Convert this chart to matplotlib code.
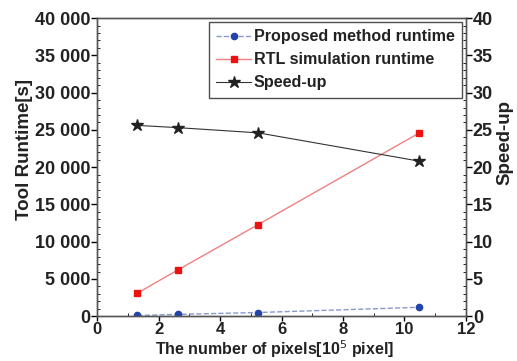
import matplotlib
matplotlib.use("Agg")
import matplotlib.pyplot as plt
from matplotlib.ticker import MultipleLocator, FuncFormatter

plt.rcParams['font.family'] = ['Liberation Sans', 'DejaVu Sans']

# data
pixels = [1.31, 2.62, 5.24, 10.49]
proposed_runtime = [100, 250, 500, 1200]
rtl_runtime = [3100, 6200, 12300, 24600]
speedup = [25.6, 25.3, 24.6, 20.8]

fig, ax = plt.subplots(figsize=(5.17, 3.61), dpi=100)
fig.subplots_adjust(left=0.188, right=0.901, top=0.95, bottom=0.124)
ax2 = ax.twinx()

l1, = ax.plot(pixels, proposed_runtime, linestyle='--', color='#8899cc', linewidth=1,
              marker='o', markersize=4.5, markerfacecolor='#2244aa', markeredgecolor='#2244aa',
              label='Proposed method runtime')
l2, = ax.plot(pixels, rtl_runtime, linestyle='-', color='#f08080', linewidth=1,
              marker='s', markersize=5, markerfacecolor='#ee1111', markeredgecolor='#ee1111',
              label='RTL simulation runtime')
l3, = ax2.plot(pixels, speedup, linestyle='-', color='#333333', linewidth=0.8,
               marker='*', markersize=9, markerfacecolor='#222222', markeredgecolor='#222222',
               label='Speed-up')

ax.set_xlim(0, 12)
ax.set_ylim(0, 40000)
ax2.set_ylim(0, 40)

ax.xaxis.set_major_locator(MultipleLocator(2))
ax.xaxis.set_minor_locator(MultipleLocator(1))
ax.yaxis.set_major_locator(MultipleLocator(5000))
ax.yaxis.set_minor_locator(MultipleLocator(1000))
ax2.yaxis.set_major_locator(MultipleLocator(5))
ax2.yaxis.set_minor_locator(MultipleLocator(1))

ax.yaxis.set_major_formatter(FuncFormatter(lambda v, p: f"{int(v):,}".replace(',', ' ')))

for a in (ax, ax2):
    a.tick_params(which='major', direction='out', length=4, width=1, labelsize=13, pad=1)
    a.tick_params(which='minor', direction='in', length=2.5, width=0.6)
    for s in a.spines.values():
        s.set_color('#555555')
        s.set_linewidth(1)
ax.tick_params(axis='x', which='major', labelsize=12, pad=0.5, length=3.5)
for lab in ax.get_xticklabels() + ax.get_yticklabels() + ax2.get_yticklabels():
    lab.set_fontweight('bold')
    lab.set_color('#222222')

ax.set_xlabel('The number of pixels[10$^{5}$ pixel]', fontsize=11.5, fontweight='bold',
              color='#222222')
ax.xaxis.set_label_coords(0.48, -0.148)
ax.xaxis.label.set_va('bottom')
ax.set_ylabel('Tool Runtime[s]', fontsize=13.5, fontweight='bold', color='#222222')
ax.yaxis.set_label_coords(-0.173, 0.56)
ax2.set_ylabel('Speed-up', fontsize=13.5, fontweight='bold', color='#222222')
ax2.yaxis.set_label_coords(1.082, 0.584)

leg = ax.legend(handles=[l1, l2, l3], loc='upper right', fontsize=11.6, frameon=True,
                fancybox=False, edgecolor='#222222', handlelength=2.2, handletextpad=0.15,
                borderpad=0.45, labelspacing=0.5, borderaxespad=0.25)
leg.get_frame().set_linewidth(1)
for t in leg.get_texts():
    t.set_fontweight('bold')
    t.set_color('#222222')

plt.savefig('out.png', dpi=100)
